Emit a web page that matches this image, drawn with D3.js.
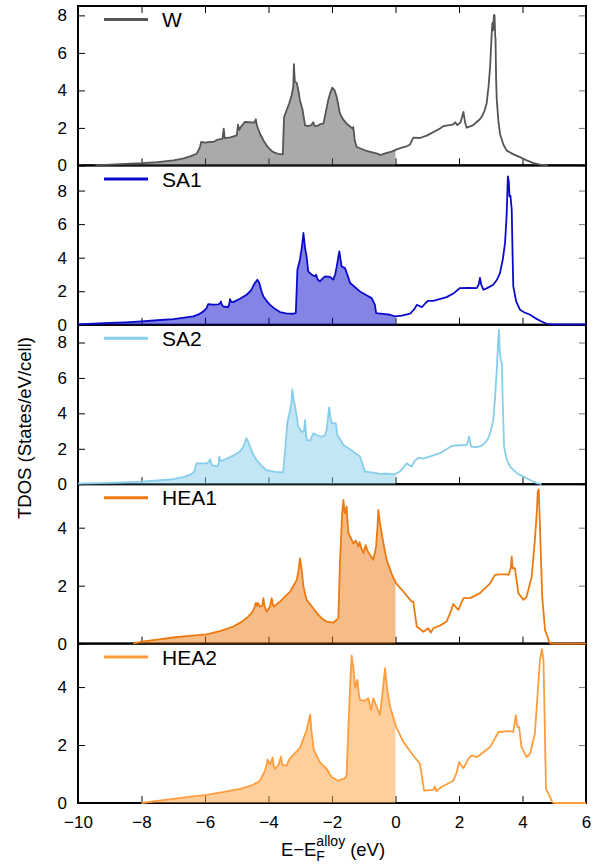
<!DOCTYPE html>
<html>
<head>
<meta charset="utf-8">
<script src="https://cdn.jsdelivr.net/npm/d3@7"></script>
<style>
  body { margin: 0; background: #fff; }
  svg { display: block; font-family: "Liberation Sans", Arial, Helvetica, sans-serif; }
</style>
</head>
<body>
<svg id="chart" width="607" height="865"></svg>
<script>
// Total density of states, energy relative to the alloy Fermi level (eV)
const energyDomain = [-10, 6];
const energyTicks = [-10, -8, -6, -4, -2, 0, 2, 4, 6];

const seriesNames = ["W", "SA1", "SA2", "HEA1", "HEA2"];
const seriesColors = ["#555555", "#0a0acc", "#87ceeb", "#ec7a10", "#ff9d3c"];
const dosMax = [8.5, 9.5, 9, 5.5, 5.5];
const dosTicks = [[0, 2, 4, 6, 8], [0, 2, 4, 6, 8], [0, 2, 4, 6, 8], [0, 2, 4], [0, 2, 4]];

// [energy (eV), TDOS (states/eV/cell)]
const dosW = [
  [-9.45,0],[-9.0,0.04],[-8.5,0.08],[-8.0,0.12],[-7.5,0.18],[-7.0,0.27],[-6.7,0.36],[-6.47,0.48],
  [-6.26,0.62],[-6.16,0.98],[-6.12,1.25],[-6.0,1.22],[-5.85,1.25],[-5.74,1.25],[-5.6,1.38],[-5.45,1.42],
  [-5.41,1.96],[-5.38,1.45],[-5.2,1.5],[-5.0,1.6],[-4.96,2.17],[-4.92,1.9],[-4.85,2.1],[-4.74,2.32],
  [-4.6,2.3],[-4.45,2.28],[-4.40,2.46],[-4.36,2.1],[-4.27,1.7],[-4.15,1.3],[-4.06,1.07],[-3.95,0.85],
  [-3.85,0.71],[-3.7,0.62],[-3.55,0.59],[-3.51,2.58],[-3.43,2.94],[-3.35,3.3],[-3.27,3.74],[-3.22,4.2],
  [-3.20,5.4],[-3.17,4.45],[-3.11,4.4],[-3.05,3.9],[-3.01,3.48],[-2.93,3.0],[-2.85,2.14],[-2.75,2.1],
  [-2.65,2.15],[-2.59,2.3],[-2.55,2.1],[-2.45,2.12],[-2.38,2.2],[-2.27,2.23],[-2.2,2.8],[-2.12,3.48],
  [-2.05,3.9],[-1.99,4.15],[-1.92,4.0],[-1.85,3.65],[-1.75,2.76],[-1.65,2.45],[-1.54,2.23],[-1.45,2.1],
  [-1.35,1.96],[-1.33,2.04],[-1.28,1.3],[-1.22,0.98],[-1.1,0.9],[-0.91,0.77],[-0.7,0.68],[-0.55,0.62],
  [-0.49,0.55],[-0.3,0.65],[-0.1,0.75],[0.02,0.84],[0.2,0.95],[0.35,1.02],[0.45,1.1],[0.56,1.48],
  [0.77,1.46],[1.0,1.6],[1.2,1.78],[1.40,1.96],[1.51,2.10],[1.7,2.15],[1.82,2.19],[1.88,2.3],
  [1.95,2.15],[2.05,2.3],[2.14,2.85],[2.19,2.3],[2.24,2.01],[2.35,2.08],[2.45,2.15],[2.55,2.3],
  [2.65,2.45],[2.71,2.58],[2.8,2.9],[2.87,3.3],[2.93,4.2],[2.98,5.26],[3.03,7.0],[3.05,7.58],
  [3.07,7.2],[3.10,8.02],[3.12,8.0],[3.14,6.86],[3.15,6.8],[3.17,4.5],[3.19,3.48],[3.24,2.4],
  [3.29,1.69],[3.4,1.1],[3.50,0.80],[3.7,0.6],[3.92,0.44],[4.13,0.27],[4.35,0.12],[4.55,0.04],[4.8,0]
];

const dosSA1 = [
  [-10,0.03],[-9.5,0.07],[-9,0.11],[-8.5,0.15],[-8,0.2],[-7.5,0.27],[-7,0.34],[-6.7,0.41],
  [-6.37,0.5],[-6.2,0.62],[-6.05,0.8],[-5.95,1.0],[-5.9,1.23],[-5.75,1.2],[-5.58,1.22],[-5.52,1.28],
  [-5.50,1.39],[-5.47,1.2],[-5.42,1.09],[-5.27,1.05],[-5.24,1.2],[-5.21,1.53],[-5.18,1.38],[-5.11,1.35],
  [-4.9,1.55],[-4.69,1.79],[-4.55,2.05],[-4.43,2.49],[-4.38,2.6],[-4.35,2.69],[-4.32,2.6],[-4.29,2.49],
  [-4.22,2.0],[-4.16,1.69],[-4.05,1.4],[-3.95,1.19],[-3.8,0.95],[-3.64,0.76],[-3.45,0.68],[-3.22,0.66],
  [-3.14,0.7],[-3.09,3.28],[-3.01,3.88],[-2.95,4.6],[-2.90,5.47],[-2.85,4.6],[-2.80,4.08],[-2.75,3.18],
  [-2.65,3.0],[-2.54,2.89],[-2.50,2.98],[-2.45,2.7],[-2.38,2.59],[-2.3,2.75],[-2.22,2.89],[-2.06,2.85],
  [-1.96,2.69],[-1.90,3.0],[-1.85,3.48],[-1.77,4.38],[-1.73,3.9],[-1.70,3.48],[-1.59,3.38],[-1.5,2.9],
  [-1.43,2.49],[-1.12,1.99],[-0.9,1.75],[-0.75,1.59],[-0.65,1.2],[-0.61,0.7],[-0.4,0.65],[-0.17,0.6],
  [-0.02,0.5],[0.2,0.55],[0.46,0.66],[0.58,0.9],[0.67,1.19],[0.75,1.12],[0.83,1.05],[0.95,1.3],
  [1.03,1.43],[1.19,1.43],[1.61,1.65],[1.85,1.9],[2.03,2.19],[2.3,2.2],[2.56,2.19],[2.62,2.4],
  [2.66,2.79],[2.70,2.4],[2.77,2.09],[2.9,2.2],[3.08,2.39],[3.2,2.7],[3.29,3.08],[3.38,3.9],
  [3.45,4.88],[3.50,6.5],[3.54,8.85],[3.57,8.5],[3.59,7.66],[3.62,7.7],[3.66,6.87],[3.69,4.0],
  [3.71,2.29],[3.8,1.4],[3.92,0.9],[4.05,0.75],[4.24,0.6],[4.4,0.4],[4.6,0.2],[4.76,0.06],
  [5.0,0.03],[6.0,0.03]
];

const dosSA2 = [
  [-10,0.03],[-9,0.08],[-8,0.15],[-7,0.28],[-6.63,0.43],[-6.45,0.55],[-6.34,0.71],[-6.27,1.18],
  [-5.95,1.18],[-5.88,1.25],[-5.84,1.41],[-5.80,1.15],[-5.75,1.05],[-5.61,1.0],[-5.57,1.2],[-5.55,1.56],
  [-5.52,1.35],[-5.48,1.31],[-5.11,1.61],[-4.9,1.85],[-4.79,2.12],[-4.72,2.45],[-4.70,2.59],[-4.65,2.45],
  [-4.60,2.21],[-4.5,1.75],[-4.38,1.37],[-4.2,1.0],[-4.07,0.8],[-3.8,0.7],[-3.54,0.67],[-3.48,1.84],
  [-3.41,3.44],[-3.33,4.09],[-3.28,4.6],[-3.25,5.35],[-3.21,4.8],[-3.17,4.47],[-3.06,3.25],[-2.96,2.96],
  [-2.88,3.0],[-2.85,3.62],[-2.82,2.9],[-2.80,2.5],[-2.69,2.46],[-2.59,2.87],[-2.45,2.75],[-2.33,2.68],
  [-2.22,2.78],[-2.17,3.06],[-2.09,4.34],[-2.05,3.8],[-2.01,3.44],[-1.88,3.44],[-1.83,2.78],[-1.64,2.21],
  [-1.33,1.84],[-1.12,1.56],[-1.05,1.2],[-0.96,0.71],[-0.7,0.65],[-0.49,0.58],[-0.25,0.6],[-0.02,0.56],
  [0.14,0.71],[0.25,0.95],[0.35,1.18],[0.45,1.05],[0.51,1.0],[0.6,1.3],[0.72,1.5],[0.88,1.45],
  [1.40,1.75],[1.77,2.16],[2.0,2.2],[2.24,2.21],[2.30,2.5],[2.32,2.70],[2.36,2.3],[2.39,2.12],
  [2.55,2.1],[2.71,2.16],[2.85,2.4],[2.92,2.59],[3.0,3.0],[3.08,3.62],[3.14,5.0],[3.19,6.44],
  [3.23,8.0],[3.26,8.73],[3.28,7.6],[3.29,7.38],[3.32,7.0],[3.35,6.82],[3.38,4.5],[3.42,2.12],
  [3.5,1.4],[3.61,0.99],[3.82,0.62],[3.95,0.5],[4.13,0.34],[4.3,0.18],[4.45,0.06],[4.6,0]
];

const dosHEA1 = [
  [-8.26,0],[-8.0,0.07],[-7.5,0.14],[-7.0,0.21],[-6.5,0.27],[-5.95,0.32],[-5.5,0.44],[-5.11,0.59],
  [-4.85,0.75],[-4.64,0.93],[-4.5,1.1],[-4.43,1.28],[-4.41,1.38],[-4.39,1.40],[-4.36,1.3],[-4.33,1.4],
  [-4.27,1.28],[-4.2,1.3],[-4.16,1.57],[-4.13,1.3],[-4.06,1.10],[-3.95,1.28],[-3.90,1.57],[-3.86,1.35],
  [-3.83,1.28],[-3.64,1.45],[-3.32,1.79],[-3.11,2.2],[-3.05,2.55],[-3.01,2.94],[-2.96,2.6],[-2.90,1.97],
  [-2.80,1.51],[-2.59,1.22],[-2.43,0.99],[-2.3,0.85],[-2.17,0.76],[-1.96,0.72],[-1.80,0.88],[-1.75,2.77],
  [-1.68,4.5],[-1.64,4.96],[-1.61,4.6],[-1.59,4.5],[-1.54,4.73],[-1.51,4.2],[-1.48,3.81],[-1.43,3.7],
  [-1.33,3.46],[-1.25,3.55],[-1.17,3.35],[-1.13,3.5],[-1.08,3.3],[-1.01,3.12],[-0.94,3.4],[-0.88,3.2],
  [-0.80,3.06],[-0.70,2.89],[-0.61,3.35],[-0.57,4.0],[-0.54,4.61],[-0.49,4.15],[-0.38,3.46],[-0.28,2.89],
  [-0.1,2.35],[0.02,2.08],[0.25,1.79],[0.51,1.45],[0.56,1.45],[0.67,0.59],[0.88,0.41],[1.03,0.53],
  [1.07,0.45],[1.11,0.38],[1.19,0.53],[1.4,0.62],[1.61,0.76],[1.72,1.05],[1.82,1.36],[1.98,1.16],
  [2.14,1.57],[2.35,1.57],[2.66,1.74],[2.98,2.08],[3.13,2.37],[3.3,2.39],[3.50,2.39],[3.56,2.37],
  [3.63,2.6],[3.66,3.0],[3.69,2.6],[3.76,2.6],[3.87,1.74],[4.03,1.51],[4.13,1.62],[4.29,2.31],
  [4.39,3.58],[4.45,4.5],[4.48,5.24],[4.51,5.32],[4.53,4.73],[4.57,3.35],[4.62,1.62],[4.71,0.47],
  [4.85,0.04],[4.9,0],[6,0]
];

const dosHEA2 = [
  [-8.0,0],[-7.5,0.07],[-7.0,0.14],[-6.5,0.21],[-5.95,0.28],[-5.4,0.38],[-4.90,0.49],[-4.5,0.62],
  [-4.27,0.77],[-4.11,1.12],[-4.05,1.35],[-4.03,1.5],[-3.98,1.35],[-3.95,1.35],[-3.87,1.57],[-3.84,1.3],
  [-3.80,1.18],[-3.69,1.3],[-3.61,1.6],[-3.57,1.35],[-3.54,1.3],[-3.43,1.3],[-3.33,1.53],[-3.01,1.9],
  [-2.80,2.51],[-2.72,2.9],[-2.69,3.05],[-2.66,2.7],[-2.64,2.4],[-2.57,1.82],[-2.38,1.41],[-2.17,1.18],
  [-2.01,0.89],[-1.80,0.77],[-1.6,0.85],[-1.54,0.95],[-1.48,2.74],[-1.41,4.48],[-1.38,5.08],[-1.35,4.8],
  [-1.33,4.71],[-1.27,3.97],[-1.20,4.25],[-1.16,3.8],[-1.12,3.55],[-0.96,3.53],[-0.86,3.62],[-0.77,3.21],
  [-0.70,3.62],[-0.59,3.32],[-0.49,3.03],[-0.41,3.78],[-0.33,4.65],[-0.26,3.9],[-0.17,3.32],[0.02,2.63],
  [0.25,2.1],[0.56,1.64],[0.77,1.35],[0.9,0.43],[1.19,0.45],[1.24,0.57],[1.29,0.41],[1.45,0.55],
  [1.82,0.77],[1.93,1.06],[2.0,1.41],[2.07,1.3],[2.14,1.2],[2.30,1.53],[2.40,1.64],[2.56,1.58],
  [2.98,1.93],[3.24,2.45],[3.61,2.48],[3.71,2.45],[3.79,3.03],[3.84,2.63],[3.89,2.63],[3.97,1.93],
  [4.13,1.58],[4.24,1.7],[4.39,2.4],[4.50,4.13],[4.55,4.94],[4.61,5.31],[4.66,4.94],[4.69,3.32],
  [4.74,0.49],[4.87,0.2],[4.94,0.02],[5.0,0],[6,0]
];

const seriesData = [dosW, dosSA1, dosSA2, dosHEA1, dosHEA2];

// ---- layout ----
const svg = d3.select("#chart");
const plotLeft = 78, plotRight = 586, plotTop = 6, plotBottom = 803;
const panelH = (plotBottom - plotTop) / seriesNames.length;
const tickFont = 17;

const x = d3.scaleLinear().domain(energyDomain).range([plotLeft, plotRight]);

const defs = svg.append("defs");
// occupied states (E <= E_F) are shaded
defs.append("clipPath").attr("id", "occupied")
  .append("rect")
  .attr("x", x(energyDomain[0])).attr("width", x(0) - x(energyDomain[0]))
  .attr("y", plotTop - 2).attr("height", plotBottom - plotTop + 4);

const panelsLayer = svg.append("g");
const dataLayer = svg.append("g");

seriesNames.forEach((name, i) => {
  const top = plotTop + i * panelH;
  const bottom = top + panelH;
  const y = d3.scaleLinear().domain([0, dosMax[i]]).range([bottom, top]);
  const color = seriesColors[i];
  const data = seriesData[i];
  const g = panelsLayer.append("g");

  // x ticks (inward, from bottom edge)
  g.append("g").attr("transform", `translate(0,${bottom})`)
    .call(d3.axisTop(x).tickValues(energyTicks).tickSize(7).tickFormat(""))
    .call(s => s.select(".domain").remove())
    .call(s => s.selectAll("line").attr("stroke", "#000").attr("stroke-width", 1));
  if (i === 0) {
    g.append("g").attr("transform", `translate(0,${top})`)
      .call(d3.axisBottom(x).tickValues(energyTicks).tickSize(7).tickFormat(""))
      .call(s => s.select(".domain").remove())
      .call(s => s.selectAll("line").attr("stroke", "#000").attr("stroke-width", 1));
  }

  // y ticks, left (black) and right (grey)
  g.append("g").attr("transform", `translate(${plotLeft},0)`)
    .call(d3.axisRight(y).tickValues(dosTicks[i]).tickSize(7).tickFormat(""))
    .call(s => s.select(".domain").remove())
    .call(s => s.selectAll("line").attr("stroke", "#000").attr("stroke-width", 1));
  g.append("g").attr("transform", `translate(${plotRight},0)`)
    .call(d3.axisLeft(y).tickValues(dosTicks[i]).tickSize(7).tickFormat(""))
    .call(s => s.select(".domain").remove())
    .call(s => s.selectAll("line").attr("stroke", "#777").attr("stroke-width", 1));

  // y tick labels
  g.append("g").attr("transform", `translate(${plotLeft},0)`)
    .call(d3.axisLeft(y).tickValues(dosTicks[i]).tickSize(0).tickPadding(11).tickFormat(d3.format("d")))
    .call(s => s.select(".domain").remove())
    .call(s => s.selectAll("text")
      .attr("font-size", tickFont).attr("fill", "#000")
      .attr("font-family", "'Liberation Sans', Arial, sans-serif"));

  // frame
  g.append("rect")
    .attr("x", plotLeft).attr("y", top)
    .attr("width", plotRight - plotLeft).attr("height", panelH)
    .attr("fill", "none").attr("stroke", "#000").attr("stroke-width", 2);

  // shaded area up to the Fermi level
  const area = d3.area().x(d => x(d[0])).y0(y(0)).y1(d => y(d[1]));
  dataLayer.append("path")
    .datum(data)
    .attr("clip-path", "url(#occupied)")
    .attr("d", area)
    .attr("fill", color).attr("fill-opacity", 0.5).attr("stroke", "none");

  // DOS curve
  const line = d3.line().x(d => x(d[0])).y(d => y(d[1]));
  dataLayer.append("path")
    .datum(data)
    .attr("d", line)
    .attr("fill", "none").attr("stroke", color)
    .attr("stroke-width", 1.8).attr("stroke-linejoin", "round");

  // key
  const keyY = top + 13.5;
  dataLayer.append("line")
    .attr("x1", 104).attr("x2", 148).attr("y1", keyY).attr("y2", keyY)
    .attr("stroke", color).attr("stroke-width", 3);
  dataLayer.append("text")
    .attr("x", 162).attr("y", keyY + 7.7)
    .attr("font-size", 21).attr("fill", "#000")
    .text(name);
});

// x tick labels on the bottom panel
svg.append("g").attr("transform", `translate(0,${plotBottom})`)
  .call(d3.axisBottom(x).tickValues(energyTicks).tickSize(0).tickPadding(12.5).tickFormat(d3.format("d")))
  .call(s => s.select(".domain").remove())
  .call(s => s.selectAll("text")
    .attr("font-size", tickFont).attr("fill", "#000")
    .attr("font-family", "'Liberation Sans', Arial, sans-serif"));

// y axis title
svg.append("text")
  .attr("transform", "translate(31,428) rotate(-90)")
  .attr("text-anchor", "middle")
  .attr("font-size", 18.5).attr("fill", "#000")
  .text("TDOS (States/eV/cell)");

// x axis title: E−E_F^alloy (eV)
const xt = svg.append("g");
const baseY = 856;
const t1 = xt.append("text").attr("y", baseY).attr("font-size", 18.5).text("E\u2212E");
const w1 = t1.node().getComputedTextLength();
const tSub = xt.append("text").attr("x", w1).attr("y", baseY + 5).attr("font-size", 14).text("F");
const tSup = xt.append("text").attr("x", w1).attr("y", baseY - 10).attr("font-size", 14).text("alloy");
const wScript = Math.max(tSub.node().getComputedTextLength(), tSup.node().getComputedTextLength());
const gap = 5;
const t2 = xt.append("text").attr("x", w1 + wScript + gap).attr("y", baseY).attr("font-size", 18.5).text("(eV)");
const totalW = w1 + wScript + gap + t2.node().getComputedTextLength();
xt.attr("transform", `translate(${(plotLeft + plotRight) / 2 - totalW / 2 + 1},0)`);
</script>
</body>
</html>
